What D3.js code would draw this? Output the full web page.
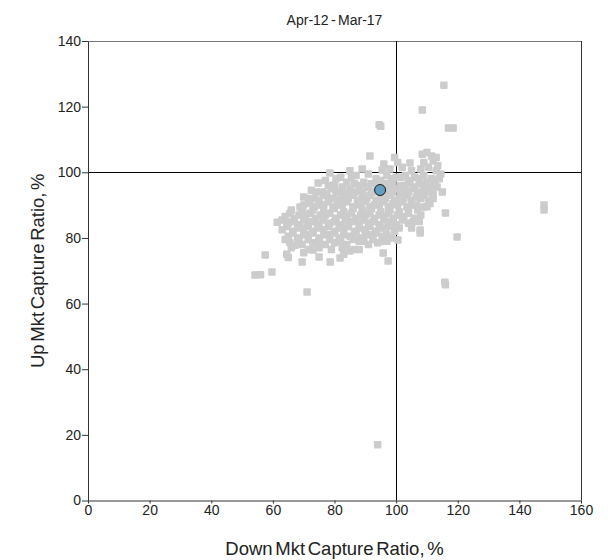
<!DOCTYPE html>
<html>
<head>
<meta charset="utf-8">
<script src="https://cdn.jsdelivr.net/npm/d3@7"></script>
<style>
  body { margin: 0; background: #fff; }
  svg text { font-family: "Liberation Sans", Arial, sans-serif; fill: #222; }
</style>
</head>
<body>
<div id="chart"></div>
<script>
const TITLE = 'Apr-12 - Mar-17'
const X_LABEL = 'Down Mkt Capture Ratio, %'
const Y_LABEL = 'Up Mkt Capture Ratio, %'
const X_TICKS = [0, 20, 40, 60, 80, 100, 120, 140, 160]
const Y_TICKS = [0, 20, 40, 60, 80, 100, 120, 140]

// peer universe (down capture, up capture)
const peerDown = [
  91.5, 99.5, 108.5, 110, 111.5, 113,
  96, 100.5, 104.5, 109, 112, 113.5,
  85, 89, 95.5, 98, 102, 105, 108, 110.5, 113, 114.5,
  78.5, 82, 87, 91, 93.5, 97, 100, 103, 106, 109, 111.5, 114,
  74.7, 77, 80, 84, 86.5, 89.5, 92, 96.5, 99, 101.5, 104, 107.5, 110, 112.5,
  72.5, 76, 79, 82, 85, 88, 90.5, 93, 97.5, 100, 102.5, 105.5, 108, 111, 113.3, 115,
  70, 73.5, 76.5, 79.5, 83, 86, 89, 91.5, 95, 98, 101, 103.5, 106.5, 109, 112,
  68.8, 72, 75, 78, 81, 84, 87.5, 90, 93, 96, 99, 102, 105, 108.8, 111,
  66, 69.5, 73, 76.5, 80, 83, 86, 89, 92, 95, 98, 101, 104, 107, 116,
  64, 67, 70.5, 74, 77, 80.5, 84, 87, 90, 93, 96, 99, 102.5, 106,
  61.4, 65, 68.5, 72, 75, 78.5, 82, 85, 88, 91, 94.5, 97.5, 100, 104, 107.5,
  63, 66.5, 70, 73, 76.5, 80, 83, 86.5, 90, 93.5, 96.5, 99.5, 107.8, 105,
  65, 68, 71.5, 75, 78, 81.5, 85, 88.5, 92, 95.5, 98.5, 100.6, 107.8, 119.8,
  65.5, 67.2, 69.5, 73, 77, 80, 84, 88, 91, 94, 97,
  64.5, 65, 69.5, 70, 73, 75, 78.6, 81.8, 83, 85, 88, 95.8, 97.4,
  57.5, 54.2, 56, 59.7, 71.1, 116, 115.8,
  148, 148, 94, 94.5, 95, 108.5, 117, 118.5, 115.5,
  // overlapping funds inside the main cloud
  80.5, 85.5, 95, 98.5, 101.5, 104.5, 107.5, 112.5,
  78, 82.5, 88, 91, 94, 98, 103, 106, 109, 111.5,
  74, 77.5, 80.5, 84, 86.5, 89, 92, 96, 99, 101.5, 104, 107, 110, 112,
  71.5, 75, 78, 81.5, 84.5, 87.5, 90.5, 93.5, 96.5, 99.5, 102.5, 105, 108, 110.5,
  70, 73.5, 76.5, 79.5, 82.5, 86, 88.5, 91.5, 94.5, 97.5, 100.5, 103.5, 106.5, 110,
  65.5, 68.5, 72, 75.5, 78.5, 82, 85.5, 88.5, 91.5, 94.5, 97.5, 100.5, 104, 108,
  63, 66.5, 70, 73.5, 76.5, 80, 83.5, 86.5, 89.5, 92.5, 96, 99, 102, 105.5,
  64.5, 68, 71.5, 74.5, 78, 81.5, 84.5, 88, 91.5, 95, 98, 101,
  66.5, 70, 73, 76.5, 80, 83, 87, 90, 93.5, 97,
  64, 68.5, 71.5, 75, 78.5, 82, 86, 89.5, 92.5, 95.5,
  66, 71.5, 75, 79, 82.5, 86.5
]
const peerUp = [
  105, 104.5, 105.5, 106, 105, 104.5,
  102.5, 103, 102.8, 103, 103.5, 102,
  100.5, 101, 100.7, 101, 101.5, 100.5, 101, 101.5, 100.5, 99.5,
  99.8, 98.5, 99, 99.5, 98, 99, 98.5, 99, 98.5, 99, 98, 98,
  96.7, 97.5, 96, 97, 96.5, 97, 96.5, 96.5, 97, 96, 97, 96.5, 97, 96.5,
  94.5, 94, 95, 93.7, 95, 94.5, 95.5, 94, 94.5, 95, 94, 95, 94, 95, 95.5, 94,
  92.5, 92, 93, 92, 92.5, 93, 92, 93, 92.5, 93, 92, 93, 92.5, 93, 92,
  89.4, 90.6, 90, 91, 90, 91, 90.5, 91, 90, 91, 90.5, 91, 90, 89.4, 90.5,
  88.5, 88, 88.5, 88, 89, 88, 89, 88.5, 89, 88, 88.5, 88, 89, 88.5, 87.6,
  86.5, 86, 86.5, 86, 87, 86, 86.5, 86, 87, 86, 86.5, 86, 86.5, 86,
  84.8, 84.5, 84, 85, 84, 84.5, 84, 85, 84, 84.5, 84, 85, 84, 84.5, 85,
  82.5, 82, 83, 82, 82.5, 82, 83, 82, 82.5, 82, 83, 82, 82.4, 83,
  80.5, 80, 81, 80, 81, 80, 80.5, 80, 81, 80.5, 80, 79.4, 81.5, 80.3,
  78.5, 77.8, 78, 78.5, 78, 78.5, 78, 79, 78, 78.5, 79,
  75, 74, 72.7, 75.5, 76.3, 74.2, 72.7, 73.9, 75, 76, 76.5, 75.4, 73,
  74.8, 68.7, 68.8, 69.6, 63.5, 65.7, 66.5,
  90, 88.5, 17, 114.5, 114, 119, 113.5, 113.5, 126.5,
  98, 98.5, 97.5, 98, 98.5, 97.5, 98, 97.5,
  96, 95.5, 96, 95.5, 96, 95.5, 96, 95.5, 96, 95.5,
  94, 93.5, 94, 93.5, 94, 93.5, 94, 93.5, 94, 93.5, 94, 93.5, 94, 93.5,
  92, 91.5, 92, 91.5, 92, 91.5, 92, 91.5, 92, 91.5, 92, 91.5, 92, 91.5,
  90, 89.5, 90, 89.5, 90, 89.5, 90, 89.5, 90, 89.5, 90, 89.5, 90, 89.5,
  87.5, 87, 87.5, 87, 87.5, 87, 87.5, 87, 87.5, 87, 87.5, 87, 87.5, 87,
  85.5, 85, 85.5, 85, 85.5, 85, 85.5, 85, 85.5, 85, 85.5, 85, 85.5, 85,
  83.5, 83, 83.5, 83, 83.5, 83, 83.5, 83, 83.5, 83, 83.5, 83,
  81.5, 81, 81.5, 81, 81.5, 81, 81.5, 81, 81.5, 81,
  79.5, 79, 79.5, 79, 79.5, 79, 79.5, 79, 79.5, 79,
  77, 76.5, 77, 76.5, 77, 76.5
]

// highlighted fund
const fundDown = [94.8]
const fundUp = [94.6]

const MARGIN = { top: 41, right: 31, bottom: 59.5, left: 88 }
const width = 612, height = 560
const W = width - MARGIN.left - MARGIN.right
const H = height - MARGIN.top - MARGIN.bottom

const svg = d3.select('#chart').append('svg')
  .attr('width', width).attr('height', height)

const g = svg.append('g').attr('transform', `translate(${MARGIN.left},${MARGIN.top})`)

const x = d3.scaleLinear().domain([0, 160]).range([0, W])
const y = d3.scaleLinear().domain([0, 140]).range([H, 0])

// frame: top grey, right dark
g.append('line').attr('x1', 0).attr('x2', W).attr('y1', 0.5).attr('y2', 0.5)
  .attr('stroke', '#777').attr('stroke-width', 1)
g.append('line').attr('x1', W + 0.5).attr('x2', W + 0.5).attr('y1', 0).attr('y2', H)
  .attr('stroke', '#333').attr('stroke-width', 1)

// 100% reference lines
g.append('line').attr('x1', Math.round(x(100)) + 0.5).attr('x2', Math.round(x(100)) + 0.5)
  .attr('y1', 0).attr('y2', H).attr('stroke', '#000').attr('stroke-width', 1)
g.append('line').attr('x1', 0).attr('x2', W)
  .attr('y1', Math.round(y(100)) + 0.5).attr('y2', Math.round(y(100)) + 0.5)
  .attr('stroke', '#000').attr('stroke-width', 1)

// peers
const peers = peerDown.map((d, i) => ({ down: d, up: peerUp[i] }))
const S = 7.5
g.append('g').selectAll('rect').data(peers).join('rect')
  .attr('x', d => x(d.down) - S / 2)
  .attr('y', d => y(d.up) - S / 2)
  .attr('width', S).attr('height', S).attr('rx', 1)
  .attr('fill', '#cccccc')

// fund
g.append('g').selectAll('circle').data(fundDown.map((d, i) => ({ down: d, up: fundUp[i] })))
  .join('circle')
  .attr('cx', d => x(d.down)).attr('cy', d => y(d.up))
  .attr('r', 5.5).attr('fill', '#649fc3').attr('stroke', '#1a1a1a').attr('stroke-width', 1)

// axes
const xAxis = g.append('g').attr('transform', `translate(0,${H})`)
  .call(d3.axisBottom(x).tickValues(X_TICKS).tickSize(3).tickPadding(2).tickSizeOuter(0))
xAxis.select('.domain').attr('stroke', '#333')
xAxis.selectAll('.tick line').attr('stroke', '#333')
xAxis.selectAll('text').style('font-size', '14px').attr('fill', '#222')

const yAxis = g.append('g')
  .call(d3.axisLeft(y).tickValues(Y_TICKS).tickSize(6).tickPadding(1).tickSizeOuter(0))
yAxis.select('.domain').attr('stroke', '#333')
yAxis.selectAll('.tick line').attr('stroke', '#333')
yAxis.selectAll('text').style('font-size', '14px').attr('fill', '#222')

// titles
svg.append('text').attr('x', MARGIN.left + W / 2).attr('y', 25)
  .attr('text-anchor', 'middle').style('font-size', '14px').style('word-spacing', '-1.5px').text(TITLE)

svg.append('text').attr('x', MARGIN.left + W / 2).attr('y', 555)
  .attr('text-anchor', 'middle').style('font-size', '18.5px').style('word-spacing', '-2.5px').text(X_LABEL)

svg.append('text')
  .attr('transform', `translate(44,${MARGIN.top + H / 2}) rotate(-90)`)
  .attr('text-anchor', 'middle').style('font-size', '18.5px').style('word-spacing', '-2.5px').text(Y_LABEL)
</script>
</body>
</html>
